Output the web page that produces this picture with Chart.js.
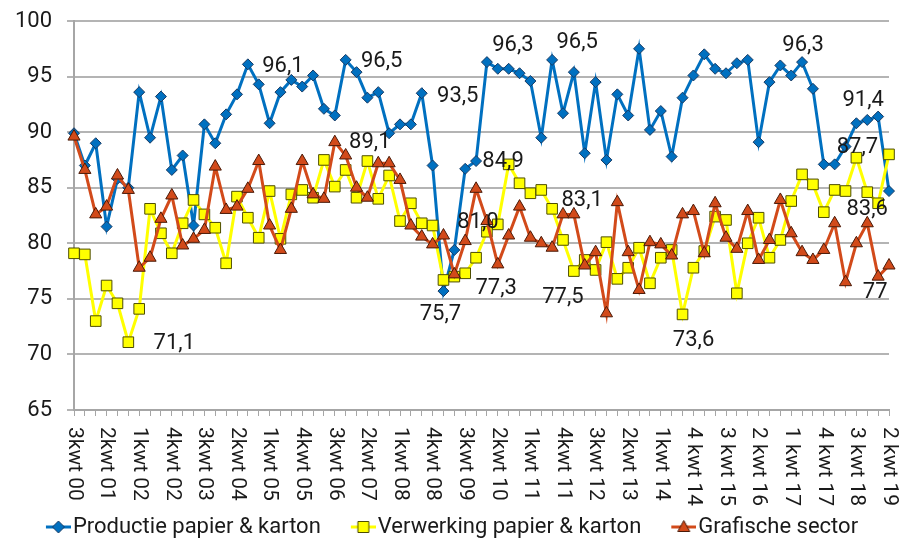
<!DOCTYPE html>
<html>
<head>
<meta charset="utf-8">
<script src="https://cdn.jsdelivr.net/npm/chart.js@4.4.1/dist/chart.umd.min.js"></script>
<style>
  body { margin: 0; background: #fff; }
  .wrap { width: 899px; height: 541px; }
</style>
</head>
<body>
<div class="wrap"><canvas id="grafiek"></canvas></div>
<script>
// kwartalen 3e kwartaal 2000 t/m 2e kwartaal 2019
const kwartalen = [
  '3kwt 00', '4kwt 00',
  '1kwt 01', '2kwt 01', '3kwt 01', '4kwt 01',
  '1kwt 02', '2kwt 02', '3kwt 02', '4kwt 02',
  '1kwt 03', '2kwt 03', '3kwt 03', '4kwt 03',
  '1kwt 04', '2kwt 04', '3kwt 04', '4kwt 04',
  '1kwt 05', '2kwt 05', '3kwt 05', '4kwt 05',
  '1kwt 06', '2kwt 06', '3kwt 06', '4kwt 06',
  '1kwt 07', '2kwt 07', '3kwt 07', '4kwt 07',
  '1kwt 08', '2kwt 08', '3kwt 08', '4kwt 08',
  '1kwt 09', '2kwt 09', '3kwt 09', '4kwt 09',
  '1kwt 10', '2kwt 10', '3kwt 10', '4kwt 10',
  '1kwt 11', '2kwt 11', '3kwt 11', '4kwt 11',
  '1kwt 12', '2kwt 12', '3kwt 12', '4kwt 12',
  '1kwt 13', '2kwt 13', '3kwt 13', '4kwt 13',
  '1kwt 14', '2kwt 14', '3kwt 14', '4 kwt 14',
  '1 kwt 15', '2 kwt 15', '3 kwt 15', '4 kwt 15',
  '1 kwt 16', '2 kwt 16', '3 kwt 16', '4 kwt 16',
  '1 kwt 17', '2 kwt 17', '3 kwt 17', '4 kwt 17',
  '1 kwt 18', '2 kwt 18', '3 kwt 18', '4 kwt 18',
  '1 kwt 19', '2 kwt 19'
];

const productie = [
  89.9, 87.0, 89.0, 81.5, 85.8, 85.0, 93.6, 89.5, 93.2, 86.6,
  87.9, 81.6, 90.7, 89.0, 91.6, 93.4, 96.1, 94.3, 90.8, 93.6,
  94.7, 94.1, 95.1, 92.1, 91.5, 96.5, 95.4, 93.1, 93.6, 89.9,
  90.7, 90.7, 93.5, 87.0, 75.7, 79.4, 86.7, 87.4, 96.3, 95.7,
  95.7, 95.3, 94.6, 89.5, 96.5, 91.7, 95.4, 88.1, 94.5, 87.5,
  93.4, 91.5, 97.5, 90.2, 91.9, 87.8, 93.1, 95.1, 97.0, 95.7,
  95.3, 96.2, 96.5, 89.1, 94.5, 96.0, 95.1, 96.3, 93.9, 87.1,
  87.1, 88.7, 90.8, 91.1, 91.4, 84.7
];

const verwerking = [
  79.1, 79.0, 73.0, 76.2, 74.6, 71.1, 74.1, 83.1, 80.9, 79.1,
  81.8, 83.9, 82.6, 81.4, 78.2, 84.2, 82.3, 80.5, 84.7, 80.4,
  84.4, 84.8, 84.1, 87.5, 85.1, 86.6, 84.1, 87.4, 84.0, 86.1,
  82.0, 83.6, 81.8, 81.6, 76.7, 77.0, 77.3, 78.7, 81.04, 81.7,
  87.1, 85.4, 84.5, 84.8, 83.1, 80.3, 77.5, 78.5, 77.6, 80.1,
  76.8, 77.8, 79.6, 76.4, 78.7, 79.4, 73.6, 77.8, 79.3, 82.4,
  82.1, 75.5, 80.0, 82.3, 78.7, 80.3, 83.8, 86.2, 85.3, 82.8,
  84.8, 84.7, 87.7, 84.6, 83.6, 88.0
];

const grafisch = [
  89.6, 86.6, 82.6, 83.3, 86.1, 84.8, 77.8, 78.7, 82.2, 84.3,
  79.8, 80.4, 81.2, 86.9, 83.0, 83.3, 84.9, 87.4, 81.6, 79.4,
  83.1, 87.4, 84.4, 84.0, 89.1, 87.9, 85.0, 84.1, 87.2, 87.2,
  85.7, 81.6, 80.6, 79.9, 80.7, 77.2, 80.2, 84.9, 82.0, 78.1,
  80.7, 83.3, 80.5, 80.0, 79.6, 82.6, 82.6, 78.0, 79.2, 73.7,
  83.7, 79.2, 75.8, 80.1, 79.9, 78.9, 82.6, 82.9, 79.1, 83.6,
  80.5, 79.5, 82.9, 78.5, 80.3, 83.9, 80.9, 79.2, 78.5, 79.4,
  81.8, 76.5, 80.0, 81.8, 77, 78.0
];

const yTicks = [65, 70, 75, 80, 85, 90, 95, 100];

// punten met waardelabel: [reeks, index]
const labelPunten = [
  [1, 5], [0, 16], [0, 25], [2, 24], [0, 32], [0, 34], [1, 38], [2, 37],
  [1, 36], [0, 38], [0, 44], [1, 44], [1, 46], [1, 56], [0, 67], [0, 74],
  [1, 72], [1, 74], [2, 74]
];
// verschuiving van elk label t.o.v. het punt (px)
const labelOffsets = [
  [46, 1], [35, 2], [36, 2], [35, 0], [36, 3], [-3, 23], [-9, -9], [27, -27],
  [31, 15], [26, -17], [25, -17], [30, -8], [-11, 26], [11, 26], [1, -17], [-15, -16],
  [1, -10], [-11, 6], [-3, 16]
];

const tekstKleur = '#1a1a1a';
const lettertype = 'Roboto';

// legendasymbool: lijnstuk met marker, rechts in het plaatje
function maakIcoon(lijn, vulling, rand, vorm) {
  const c = document.createElement('canvas');
  c.width = 49;
  c.height = 16;
  const g = c.getContext('2d');
  const cx = 36.5, cy = 8;
  g.strokeStyle = lijn;
  g.lineWidth = 3;
  g.beginPath();
  g.moveTo(24, cy);
  g.lineTo(49, cy);
  g.stroke();
  g.fillStyle = vulling;
  g.strokeStyle = rand;
  g.lineWidth = 1;
  g.beginPath();
  if (vorm === 'ruit') {
    g.moveTo(cx, cy - 6); g.lineTo(cx + 6, cy); g.lineTo(cx, cy + 6); g.lineTo(cx - 6, cy);
  } else if (vorm === 'vierkant') {
    g.rect(cx - 5.5, cy - 5.5, 11, 11);
  } else {
    g.moveTo(cx, cy - 6.5); g.lineTo(cx + 6, cy + 4.5); g.lineTo(cx - 6, cy + 4.5);
  }
  g.closePath();
  g.fill();
  g.stroke();
  return c;
}

const iconen = [
  maakIcoon('#0070C0', '#0070C0', '#173a63', 'ruit'),
  maakIcoon('#FFFF00', '#FFFF00', '#4d4d00', 'vierkant'),
  maakIcoon('#D24A1A', '#D24A1A', '#4a1a08', 'driehoek')
];

const waardeLabels = {
  id: 'waardeLabels',
  afterDatasetsDraw(chart) {
    const ctx = chart.ctx;
    ctx.save();
    ctx.font = '22px ' + lettertype;
    ctx.fillStyle = tekstKleur;
    ctx.textAlign = 'center';
    ctx.textBaseline = 'middle';
    labelPunten.forEach(([ds, i], n) => {
      const pt = chart.getDatasetMeta(ds).data[i];
      const v = chart.data.datasets[ds].data[i];
      const txt = Number.isInteger(v) ? String(v) : v.toFixed(1).replace('.', ',');
      ctx.fillText(txt, pt.x + labelOffsets[n][0], pt.y + labelOffsets[n][1]);
    });
    ctx.restore();
  }
};

// x-labels lopen van boven naar beneden (met de klok mee gedraaid)
const xLabels = {
  id: 'xLabels',
  afterDraw(chart) {
    const sc = chart.scales.x;
    const ctx = chart.ctx;
    ctx.save();
    ctx.font = '21px ' + lettertype;
    ctx.fillStyle = tekstKleur;
    ctx.textAlign = 'left';
    ctx.textBaseline = 'middle';
    kwartalen.forEach((k, i) => {
      if (i % 3 !== 0) return;
      ctx.save();
      ctx.translate(sc.getPixelForTick(i), sc.top + 17);
      ctx.rotate(Math.PI / 2);
      ctx.fillText(k, 0, 0);
      ctx.restore();
    });
    ctx.restore();
  }
};

new Chart(document.getElementById('grafiek'), {
  type: 'line',
  data: {
    labels: kwartalen,
    datasets: [{
      label: 'Productie papier & karton',
      data: productie,
      borderColor: '#0070C0',
      backgroundColor: '#0070C0',
      borderWidth: 3,
      pointStyle: 'rectRot',
      pointRadius: 5.5,
      pointBackgroundColor: '#0070C0',
      pointBorderColor: '#173a63',
      pointBorderWidth: 1,
      tension: 0,
      clip: false,
      order: 2
    }, {
      label: 'Verwerking papier & karton',
      data: verwerking,
      borderColor: '#FFFF00',
      backgroundColor: '#FFFF00',
      borderWidth: 3,
      pointStyle: 'rect',
      pointRadius: 7.5,
      pointBackgroundColor: '#FFFF00',
      pointBorderColor: '#4d4d00',
      pointBorderWidth: 1,
      tension: 0,
      clip: false,
      order: 1
    }, {
      label: 'Grafische sector',
      data: grafisch,
      borderColor: '#D24A1A',
      backgroundColor: '#D24A1A',
      borderWidth: 3,
      pointStyle: 'triangle',
      pointRadius: 7,
      pointBackgroundColor: '#D24A1A',
      pointBorderColor: '#4a1a08',
      pointBorderWidth: 1,
      tension: 0,
      clip: false,
      order: 0
    }]
  },
  options: {
    responsive: true,
    maintainAspectRatio: false,
    animation: false,
    layout: { padding: { top: 21, right: 10, bottom: -7, left: 0 } },
    plugins: {
      tooltip: { enabled: false },
      legend: {
        position: 'bottom',
        labels: {
          usePointStyle: true,
          pointStyleWidth: 31,
          padding: 15,
          color: tekstKleur,
          font: { size: 22, family: lettertype },
          sort: (a, b) => a.datasetIndex - b.datasetIndex,
          generateLabels: (chart) => {
            const items = Chart.defaults.plugins.legend.labels.generateLabels(chart);
            items.forEach(it => { it.pointStyle = iconen[it.datasetIndex]; });
            return items;
          }
        }
      }
    },
    scales: {
      x: {
        ticks: { display: false, autoSkip: false },
        grid: { drawOnChartArea: false, tickLength: 6, color: '#a6a6a6' },
        border: { color: '#a6a6a6', width: 2 },
        afterFit: (s) => { s.height = 91; }
      },
      y: {
        min: yTicks[0],
        max: yTicks[yTicks.length - 1],
        ticks: {
          stepSize: yTicks[1] - yTicks[0],
          color: tekstKleur,
          padding: 15,
          font: { size: 22, family: lettertype }
        },
        grid: { color: '#b4b4b4', lineWidth: 2, tickLength: 7 },
        border: { color: '#a6a6a6', width: 2 },
        afterFit: (s) => {
          s.width = 74;
          s.paddingTop = 0;
          s.paddingBottom = 0;
        }
      }
    }
  },
  plugins: [waardeLabels, xLabels]
});
</script>
</body>
</html>
